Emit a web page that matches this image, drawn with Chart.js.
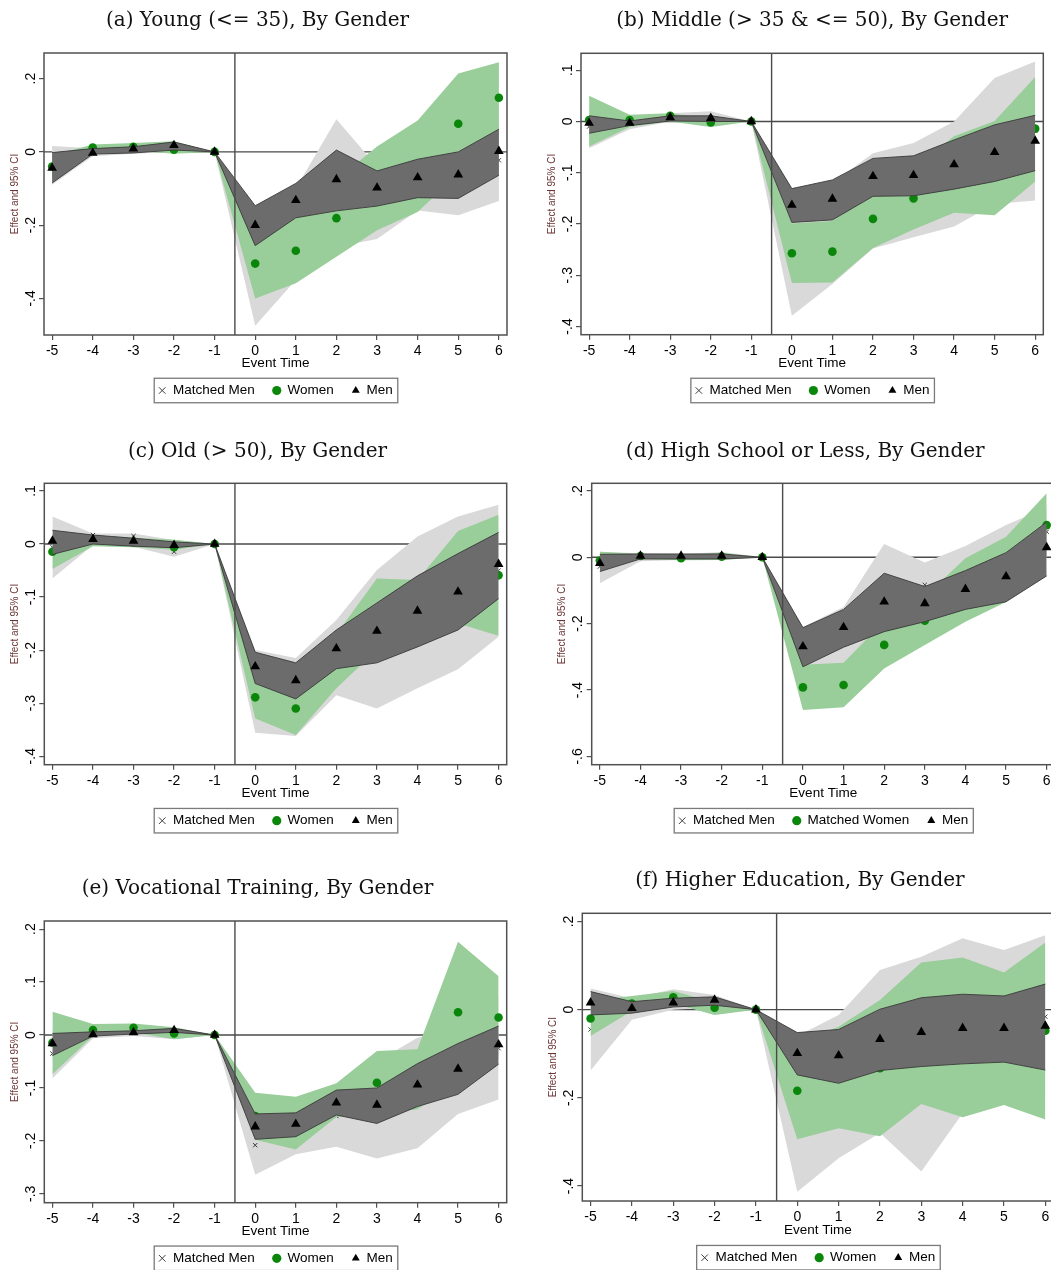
<!DOCTYPE html>
<html>
<head>
<meta charset="utf-8">
<script src="https://cdn.jsdelivr.net/npm/chart.js@4.4.1/dist/chart.umd.min.js"></script>
<style>
  html, body { margin: 0; padding: 0; background: #fff; overflow: hidden; }
  body { width: 1051px; height: 1270px; position: relative; }
  canvas { position: absolute; }
</style>
</head>
<body>
<canvas id="panelA"></canvas>
<canvas id="panelB"></canvas>
<canvas id="panelC"></canvas>
<canvas id="panelD"></canvas>
<canvas id="panelE"></canvas>
<canvas id="panelF"></canvas>
<script>
// ====================================================================
// DATA
// ====================================================================

const eventTime = [-5, -4, -3, -2, -1, 0, 1, 2, 3, 4, 5, 6];

// (a) Young
const aMatched   = [-0.038, 0.0, 0.005, 0.012, 0, -0.318, -0.225, -0.085, -0.14, -0.08, -0.09, -0.023];
const aMatchedLo = [-0.09, -0.012, -0.005, 0.0, 0, -0.475, -0.35, -0.26, -0.238, -0.16, -0.173, -0.134];
const aMatchedHi = [0.016, 0.01, 0.015, 0.025, 0, -0.16, -0.1, 0.089, -0.04, 0.0, 0.0, 0.08];
const aWomen     = [-0.04, 0.012, 0.014, 0.006, 0, -0.305, -0.27, -0.181, -0.1, -0.039, 0.077, 0.148];
const aWomenLo   = [-0.07, 0.0, 0.003, -0.005, 0, -0.4, -0.359, -0.286, -0.214, -0.164, -0.06, 0.051];
const aWomenHi   = [-0.01, 0.02, 0.024, 0.029, 0, -0.21, -0.181, -0.076, 0.015, 0.086, 0.214, 0.245];
const aMen       = [-0.044, -0.003, 0.009, 0.018, 0, -0.2, -0.132, -0.075, -0.098, -0.07, -0.062, 0.002];
const aMenLo     = [-0.085, -0.006, -0.003, 0.005, 0, -0.256, -0.18, -0.161, -0.148, -0.125, -0.127, -0.064];
const aMenHi     = [-0.002, 0.009, 0.014, 0.027, 0, -0.147, -0.086, 0.005, -0.052, -0.02, 0, 0.062];

// (b) Middle
const bMatched   = [-0.01, -0.004, 0.008, 0.008, 0, -0.26, -0.22, -0.155, -0.134, -0.1, -0.038, -0.018];
const bMatchedLo = [-0.052, -0.015, 0.0, -0.003, 0, -0.379, -0.317, -0.248, -0.226, -0.205, -0.161, -0.154];
const bMatchedHi = [0.01, 0.005, 0.016, 0.02, 0, -0.14, -0.12, -0.062, -0.042, 0.0, 0.085, 0.117];
const bWomen     = [0.003, 0.003, 0.011, -0.002, 0, -0.257, -0.254, -0.19, -0.15, -0.103, -0.091, -0.014];
const bWomenLo   = [-0.049, -0.011, 0.0, -0.011, 0, -0.315, -0.314, -0.247, -0.211, -0.178, -0.183, -0.117];
const bWomenHi   = [0.05, 0.013, 0.016, 0.005, 0, -0.199, -0.194, -0.133, -0.089, -0.029, 0.001, 0.087];
const bMen       = [-0.003, -0.003, 0.008, 0.0065, 0, -0.163, -0.151, -0.107, -0.105, -0.084, -0.06, -0.038];
const bMenLo     = [-0.023, -0.008, 0.001, 0, 0, -0.197, -0.192, -0.146, -0.145, -0.132, -0.117, -0.096];
const bMenHi     = [0.011, 0.001, 0.011, 0.011, 0, -0.131, -0.114, -0.072, -0.067, -0.036, -0.0065, 0.012];

// (c) Old
const cMatched   = [-0.006, 0.017, 0.015, -0.0145, 0, -0.27, -0.29, -0.214, -0.18, -0.13, -0.092, -0.05];
const cMatchedLo = [-0.065, -0.002, -0.005, -0.024, 0, -0.356, -0.362, -0.285, -0.31, -0.272, -0.236, -0.175];
const cMatchedHi = [0.052, 0.02, 0.02, 0.0075, 0, -0.2, -0.215, -0.143, -0.049, 0.014, 0.052, 0.074];
const cWomen     = [-0.0145, 0.008, 0.003, -0.006, 0, -0.289, -0.31, -0.22, -0.13, -0.119, -0.063, -0.059];
const cWomenLo   = [-0.047, -0.004, -0.006, -0.011, 0, -0.329, -0.36, -0.272, -0.2, -0.17, -0.15, -0.173];
const cWomenHi   = [0.018, 0.017, 0.012, 0.008, 0, -0.249, -0.26, -0.17, -0.065, -0.068, 0.0245, 0.055];
const cMen       = [0.006, 0.009, 0.006, -0.002, 0, -0.231, -0.257, -0.197, -0.164, -0.126, -0.09, -0.038];
const cMenLo     = [-0.0195, 0, -0.004, -0.007, 0, -0.263, -0.292, -0.235, -0.224, -0.194, -0.162, -0.103];
const cMenHi     = [0.026, 0.017, 0.011, 0.004, 0, -0.204, -0.224, -0.162, -0.111, -0.06, -0.018, 0.022];

// (d) High school or less
const dMatched   = [-0.028, 0.0, 0.001, 0.004, 0, -0.3, -0.24, -0.13, -0.083, -0.05, 0.01, 0.077];
const dMatchedLo = [-0.078, -0.012, -0.008, -0.008, 0, -0.42, -0.35, -0.3, -0.15, -0.134, -0.077, 0.0];
const dMatchedHi = [0.017, 0.012, 0.01, 0.016, 0, -0.21, -0.15, 0.04, -0.016, 0.034, 0.097, 0.15];
const dWomen     = [-0.01, 0.004, -0.003, 0.002, 0, -0.392, -0.385, -0.264, -0.191, -0.099, -0.036, 0.097];
const dWomenLo   = [-0.035, -0.005, -0.009, -0.008, 0, -0.46, -0.452, -0.335, -0.264, -0.194, -0.135, 0.0];
const dWomenHi   = [0.017, 0.01, 0.006, 0.014, 0, -0.324, -0.318, -0.193, -0.118, -0.003, 0.062, 0.193];
const dMen       = [-0.018, 0.004, 0.004, 0.004, 0, -0.269, -0.211, -0.134, -0.139, -0.096, -0.058, 0.03];
const dMenLo     = [-0.043, -0.005, -0.005, -0.005, 0, -0.33, -0.271, -0.224, -0.194, -0.157, -0.134, -0.056];
const dMenHi     = [0.009, 0.01, 0.01, 0.01, 0, -0.212, -0.157, -0.048, -0.088, -0.04, 0.014, 0.106];

// (e) Vocational training
const eMatched   = [-0.035, 0.0, 0.004, 0.006, 0, -0.208, -0.17, -0.153, -0.14, -0.11, -0.07, -0.025];
const eMatchedLo = [-0.082, -0.006, -0.002, -0.008, 0, -0.264, -0.225, -0.211, -0.233, -0.214, -0.149, -0.122];
const eMatchedHi = [0.01, 0.006, 0.01, 0.012, 0, -0.152, -0.12, -0.095, -0.05, -0.005, 0.01, 0.07];
const eWomen     = [-0.0145, 0.0095, 0.0139, 0.003, 0, -0.153, -0.166, -0.123, -0.09, -0.083, 0.043, 0.033];
const eWomenLo   = [-0.074, -0.002, 0.005, -0.008, 0, -0.198, -0.216, -0.155, -0.15, -0.14, -0.09, -0.045];
const eWomenHi   = [0.044, 0.021, 0.022, 0.0145, 0, -0.109, -0.1165, -0.091, -0.03, -0.027, 0.176, 0.111];
const eMen       = [-0.016, 0.001, 0.005, 0.009, 0, -0.173, -0.168, -0.128, -0.132, -0.094, -0.064, -0.018];
const eMenLo     = [-0.039, -0.002, 0.002, 0.005, 0, -0.197, -0.192, -0.151, -0.167, -0.135, -0.112, -0.055];
const eMenHi     = [0.003, 0.006, 0.008, 0.0126, 0, -0.149, -0.147, -0.104, -0.1, -0.054, -0.016, 0.017];

// (f) Higher education
const fMatched   = [-0.045, 0.0, 0.022, 0.02, 0, -0.23, -0.17, -0.095, -0.125, -0.04, -0.03, -0.016];
const fMatchedLo = [-0.138, -0.023, 0.0, 0.005, 0, -0.413, -0.337, -0.28, -0.367, -0.235, -0.2, -0.2];
const fMatchedHi = [0.048, 0.026, 0.046, 0.033, 0, -0.06, -0.012, 0.09, 0.12, 0.162, 0.135, 0.169];
const fWomen     = [-0.02, 0.014, 0.028, 0.0045, 0, -0.184, -0.154, -0.133, -0.054, -0.063, -0.066, -0.048];
const fWomenLo   = [-0.06, -0.003, 0.014, -0.012, 0, -0.294, -0.269, -0.287, -0.214, -0.244, -0.216, -0.249];
const fWomenHi   = [0.02, 0.031, 0.042, 0.016, 0, -0.074, -0.039, 0.022, 0.107, 0.118, 0.084, 0.152];
const fMen       = [0.016, 0.003, 0.016, 0.022, 0, -0.099, -0.104, -0.067, -0.051, -0.042, -0.042, -0.037];
const fMenLo     = [-0.012, -0.008, 0.006, 0.01, 0, -0.148, -0.167, -0.138, -0.129, -0.123, -0.119, -0.137];
const fMenHi     = [0.041, 0.018, 0.026, 0.029, 0, -0.052, -0.045, 0.001, 0.027, 0.035, 0.031, 0.058];

// y tick labels per panel
const aYTicks = [-0.4, -0.2, 0, 0.2];
const bYTicks = [-0.4, -0.3, -0.2, -0.1, 0, 0.1];
const cYTicks = [-0.4, -0.3, -0.2, -0.1, 0, 0.1];
const dYTicks = [-0.6, -0.4, -0.2, 0, 0.2];
const eYTicks = [-0.3, -0.2, -0.1, 0, 0.1, 0.2];
const fYTicks = [-0.4, -0.2, 0, 0.2];

const genderLegend = ['Matched Men', 'Women', 'Men'];
const matchedLegend = ['Matched Men', 'Matched Women', 'Men'];

// ====================================================================
// LOOK
// ====================================================================

const COLORS = {
  gray: '#d9d9d9',
  green: '#99cd99',
  dark: '#6c6c6c',
  darkEdge: '#3a3a3a',
  women: '#0a870a',
  men: '#000000',
  matched: '#3a3a3a',
  line: '#4a4a4a',
  frame: '#505050'
};

const SANS = '"Liberation Sans", Arial, sans-serif';
const SERIF = '"DejaVu Serif", serif';
const Y_AXIS_WIDTH = 36;
const TITLE_SIZE = 20;
const LEGEND_SIZE = 13.5;
const LEGEND_PAD = 18;
const AXIS_TITLE_SIZE = 13.5;

Chart.defaults.font.family = SANS;
Chart.defaults.color = '#000';

function stataTick(value) {
  if (Math.abs(value) < 1e-9) return '0';
  return String(value).replace(/^(-?)0\./, '$1.');
}

function toPoints(values) {
  return eventTime.map((t, i) => ({ x: t, y: values[i] }));
}

const stataPlugin = {
  id: 'stataDecor',
  beforeDatasetsDraw(chart) {
    // the y = 0 line sits underneath the confidence bands
    const { ctx, chartArea: area, scales } = chart;
    const zeroY = scales.y.getPixelForValue(0);
    ctx.save();
    ctx.strokeStyle = COLORS.line;
    ctx.lineWidth = 1.4;
    ctx.beginPath();
    ctx.moveTo(area.left, zeroY);
    ctx.lineTo(area.right, zeroY);
    ctx.stroke();
    ctx.restore();
  },
  afterDatasetsDraw(chart) {
    // event line at -0.5 and the plot frame go on top
    const { ctx, chartArea: area, scales } = chart;
    const eventX = scales.x.getPixelForValue(-0.5);
    ctx.save();
    ctx.strokeStyle = COLORS.line;
    ctx.lineWidth = 1.4;
    ctx.beginPath();
    ctx.moveTo(eventX, area.top);
    ctx.lineTo(eventX, area.bottom);
    ctx.stroke();
    ctx.strokeStyle = COLORS.frame;
    ctx.lineWidth = 1.5;
    ctx.strokeRect(area.left, area.top, area.right - area.left, area.bottom - area.top);
    ctx.restore();
  },
  afterDraw(chart) {
    // boxed legend, as in Stata
    const boxes = chart.legend && chart.legend.legendHitBoxes;
    if (!boxes || boxes.length === 0) return;
    const left = Math.min(...boxes.map(b => b.left));
    const right = Math.max(...boxes.map(b => b.left + b.width));
    const top = boxes[0].top;
    const ctx = chart.ctx;
    ctx.save();
    ctx.strokeStyle = '#7a7a7a';
    ctx.lineWidth = 1.3;
    ctx.strokeRect(left - 4, top - 5.5, right - left + 9, boxes[0].height + 11);
    ctx.restore();
  }
};

function buildPanel(canvasId, layout, title, legendNames, yTicks, s) {
  const canvas = document.getElementById(canvasId);

  const titleLineHeight = TITLE_SIZE * 1.2;
  const titlePadTop = layout.titleY - layout.y0 - titleLineHeight / 2;
  const titlePadBottom = layout.T - layout.y0 - titlePadTop - titleLineHeight;
  const xAxisHeight = layout.legendY - LEGEND_PAD - LEGEND_SIZE / 2 - layout.B;
  const eventPadBottom = layout.B + xAxisHeight - layout.eventY - AXIS_TITLE_SIZE * 1.2 / 2;
  const legendHeight = LEGEND_SIZE + LEGEND_PAD + 10;

  const width = Math.round(layout.R - layout.x0 + 6);
  const height = Math.ceil(layout.B - layout.y0 + xAxisHeight + legendHeight + 3);
  canvas.width = width;
  canvas.height = height;
  canvas.style.left = layout.x0 + 'px';
  canvas.style.top = layout.y0 + 'px';

  const padding = {
    left: layout.L - layout.x0 - Y_AXIS_WIDTH,
    right: layout.x0 + width - layout.R,
    top: 0,
    bottom: layout.y0 + height - (layout.B + xAxisHeight + legendHeight)
  };

  const band = (values, color, order, fillTarget, edge) => ({
    label: '',
    data: toPoints(values),
    borderColor: edge || color,
    borderWidth: edge ? 0.9 : 0,
    backgroundColor: color,
    pointRadius: 0,
    fill: fillTarget === undefined ? false : fillTarget,
    tension: 0,
    order
  });

  const marker = (label, values, style, color, radius, order) => ({
    label,
    data: toPoints(values),
    showLine: false,
    pointStyle: style,
    pointRadius: radius,
    pointBackgroundColor: color,
    pointBorderColor: color,
    pointBorderWidth: style === 'crossRot' ? 1 : 0,
    isMarker: true,
    order
  });

  // index:  0 men, 1-2 dark band, 3 women, 4-5 green band, 6 matched, 7-8 gray band
  const datasets = [
    marker(legendNames[2], s.men, 'triangle', COLORS.men, 5.6, 1),
    band(s.menLo, COLORS.dark, 2, undefined, COLORS.darkEdge),
    band(s.menHi, COLORS.dark, 3, 1, COLORS.darkEdge),
    marker(legendNames[1], s.women, 'circle', COLORS.women, 4.3, 4),
    band(s.womenLo, COLORS.green, 5),
    band(s.womenHi, COLORS.green, 6, 4),
    marker(legendNames[0], s.matched, 'crossRot', COLORS.matched, 3, 7),
    band(s.matchedLo, COLORS.gray, 8),
    band(s.matchedHi, COLORS.gray, 9, 7)
  ];
  const legendRank = { 6: 0, 3: 1, 0: 2 };

  return new Chart(canvas.getContext('2d'), {
    type: 'line',
    data: { datasets },
    plugins: [stataPlugin],
    options: {
      responsive: false,
      animation: false,
      devicePixelRatio: 1,
      events: [],
      layout: { padding },
      scales: {
        x: {
          type: 'linear',
          min: -5.2,
          max: 6.2,
          afterBuildTicks: scale => { scale.ticks = eventTime.map(v => ({ value: v })); },
          afterFit: scale => { scale.height = xAxisHeight; },
          grid: { drawOnChartArea: false, drawTicks: true, tickLength: 5, color: COLORS.frame, lineWidth: 1.2 },
          border: { display: false },
          ticks: { font: { size: 14 }, color: '#000', padding: 3, autoSkip: false, maxRotation: 0, minRotation: 0 },
          title: {
            display: true,
            text: 'Event Time',
            font: { size: AXIS_TITLE_SIZE },
            color: '#000',
            padding: { top: 0, bottom: eventPadBottom }
          }
        },
        y: {
          type: 'linear',
          min: layout.yMin,
          max: layout.yMax,
          afterBuildTicks: scale => { scale.ticks = yTicks.map(v => ({ value: v })); },
          afterFit: scale => { scale.width = Y_AXIS_WIDTH; },
          grid: { drawOnChartArea: false, drawTicks: true, tickLength: 5, color: COLORS.frame, lineWidth: 1.2 },
          border: { display: false },
          ticks: {
            font: { size: 14 },
            color: '#000',
            padding: 0,
            autoSkip: false,
            minRotation: 90,
            maxRotation: 90,
            crossAlign: 'center',
            callback: value => stataTick(value)
          },
          title: {
            display: true,
            text: 'Effect and 95% CI',
            font: { size: 10 },
            color: '#6b3535',
            padding: { top: 1, bottom: 0 }
          }
        }
      },
      plugins: {
        title: {
          display: true,
          text: title,
          fullSize: layout.fullTitle,
          font: { family: SERIF, size: TITLE_SIZE, weight: 'normal' },
          color: '#111',
          padding: { top: titlePadTop, bottom: titlePadBottom }
        },
        legend: {
          display: true,
          position: 'bottom',
          fullSize: false,
          labels: {
            usePointStyle: true,
            boxWidth: 8,
            boxHeight: 6.5,
            padding: LEGEND_PAD,
            color: '#000',
            font: { size: LEGEND_SIZE },
            filter: (item, data) => !!data.datasets[item.datasetIndex].isMarker,
            sort: (a, b) => legendRank[a.datasetIndex] - legendRank[b.datasetIndex]
          }
        },
        tooltip: { enabled: false }
      }
    }
  });
}

// ====================================================================
// PANELS
// ====================================================================

buildPanel('panelA',
  { x0: 0, y0: 0, L: 44, R: 507, T: 53, B: 335, titleY: 21, eventY: 363.3, legendY: 390.5, yMin: -0.5, yMax: 0.27, fullTitle: true },
  '(a) Young (<= 35), By Gender', genderLegend, aYTicks,
  { matched: aMatched, matchedLo: aMatchedLo, matchedHi: aMatchedHi, women: aWomen, womenLo: aWomenLo, womenHi: aWomenHi, men: aMen, menLo: aMenLo, menHi: aMenHi });

buildPanel('panelB',
  { x0: 540, y0: 0, L: 581, R: 1043.3, T: 53.3, B: 334.7, titleY: 21, eventY: 363.3, legendY: 390.5, yMin: -0.416, yMax: 0.133, fullTitle: false },
  '(b) Middle (> 35 & <= 50), By Gender', genderLegend, bYTicks,
  { matched: bMatched, matchedLo: bMatchedLo, matchedHi: bMatchedHi, women: bWomen, womenLo: bWomenLo, womenHi: bWomenHi, men: bMen, menLo: bMenLo, menHi: bMenHi });

buildPanel('panelC',
  { x0: 0, y0: 430, L: 44.3, R: 506.7, T: 483.3, B: 764.7, titleY: 452, eventY: 793.3, legendY: 820.7, yMin: -0.416, yMax: 0.1145, fullTitle: true },
  '(c) Old (> 50), By Gender', genderLegend, cYTicks,
  { matched: cMatched, matchedLo: cMatchedLo, matchedHi: cMatchedHi, women: cWomen, womenLo: cWomenLo, womenHi: cWomenHi, men: cMen, menLo: cMenLo, menHi: cMenHi });

buildPanel('panelD',
  { x0: 540, y0: 430, L: 591.7, R: 1054.8, T: 483.3, B: 764.7, titleY: 452, eventY: 793.3, legendY: 820.7, yMin: -0.625, yMax: 0.223, fullTitle: true },
  '(d) High School or Less, By Gender', matchedLegend, dYTicks,
  { matched: dMatched, matchedLo: dMatchedLo, matchedHi: dMatchedHi, women: dWomen, womenLo: dWomenLo, womenHi: dWomenHi, men: dMen, menLo: dMenLo, menHi: dMenHi });

buildPanel('panelE',
  { x0: 0, y0: 862, L: 44.3, R: 506.7, T: 921, B: 1202.7, titleY: 889, eventY: 1231.7, legendY: 1258.3, yMin: -0.3167, yMax: 0.2154, fullTitle: true },
  '(e) Vocational Training, By Gender', genderLegend, eYTicks,
  { matched: eMatched, matchedLo: eMatchedLo, matchedHi: eMatchedHi, women: eWomen, womenLo: eWomenLo, womenHi: eWomenHi, men: eMen, menLo: eMenLo, menHi: eMenHi });

buildPanel('panelF',
  { x0: 540, y0: 856, L: 582.3, R: 1053.6, T: 913.3, B: 1201, titleY: 881, eventY: 1230, legendY: 1257.7, yMin: -0.434, yMax: 0.2185, fullTitle: true },
  '(f) Higher Education, By Gender', genderLegend, fYTicks,
  { matched: fMatched, matchedLo: fMatchedLo, matchedHi: fMatchedHi, women: fWomen, womenLo: fWomenLo, womenHi: fWomenHi, men: fMen, menLo: fMenLo, menHi: fMenHi });
</script>
</body>
</html>
